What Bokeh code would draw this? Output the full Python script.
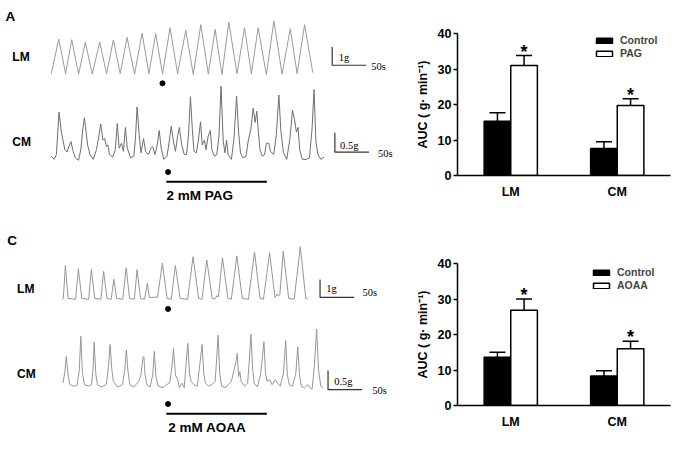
from bokeh.plotting import figure
from bokeh.models import Range1d, FactorRange, ColumnDataSource, Label, Whisker, TeeHead
from bokeh.transform import dodge
from bokeh.layouts import row, column
from bokeh.embed import file_html
from bokeh.resources import INLINE
from bokeh.core.properties import value

SANS = "Liberation Sans"
SERIF = "Liberation Serif"

# ---------------- Data: traces (time in s, tension in g) ----------------
# Panel A (PAG experiment)
lm_a_t = [0, 11, 21, 30, 40, 50, 60, 71, 81, 91, 101, 111, 122, 133, 143, 153, 163, 174, 185, 197,
          208, 219, 230, 240, 250, 260, 272, 283, 293, 303, 315, 326, 338, 350, 360, 371, 383]
lm_a_g = [0.0, 1.89, 0.0, 1.86, -0.03, 1.72, -0.03, 1.72, 0.0, 1.84, 0.0, 1.98, -0.03, 2.21, 0.0, 2.19,
          -0.03, 2.51, 0.0, 2.37, -0.05, 2.68, -0.03, 2.42, -0.05, 2.81, 0.0, 2.51, 0.0, 2.51, -0.05,
          2.89, -0.03, 2.46, 0.0, 2.68, 0.05]

cm_a_t = [0, 4.3, 7.6, 11.4, 14.8, 17.1, 20, 23.3, 25.7, 29,
          31.4, 35.2, 40, 43.3, 46.2, 48.6, 51, 53.3, 56.7, 61.4,
          66.2, 69.5, 72.4, 75.7, 78.1, 81, 82.9, 85.2, 90, 93.8,
          96.7, 99.5, 102.9, 105.7, 108.6, 111.4, 116.2, 121, 123.3, 125.7,
          128.6, 131.4, 135.2, 138.1, 142.4, 145.7, 148.6, 151.9, 155.2, 158.1,
          161, 164.8, 169.5, 173.3, 175.7, 179, 181.9, 185.2, 187.6, 191,
          194.8, 198.1, 201, 203.8, 206.7, 209, 212.4, 215.2, 218.6, 221,
          224.3, 226.7, 229.5, 232.9, 235.2, 239, 242.4, 245.7, 248.6, 251.9,
          254.3, 256.7, 259, 263.8, 267.6, 271.4, 274.3, 277.1, 280.5, 285.2,
          288.6, 292.4, 295.7, 298.6, 301, 303.3, 305.7, 309, 312.4, 315.2,
          318.6, 321, 325.7, 329.5, 333.3, 336.2, 340, 344.8, 349.5, 353.3,
          356.2, 359, 361.4, 363.8, 367.6, 373.3, 378.1, 381.9, 384.8, 387.6,
          390.5, 394.8, 399.5]
cm_a_g = [0.08, 0, 0.125, 1.225, 0.71, 0.5, 0.25, 0.19, 0.33, 0.46,
          0.25, 0.04, -0.025, 0.25, 0.79, 1.08, 0.71, 0.375, 0.125, 0,
          0.25, 0.58, 0.92, 0.5, 0.54, 0.33, 0.375, 0.125, 0.06, 0.25,
          0.93, 0.29, 0.42, 0.21, 0.83, 0.29, 0.04, 0.08, 0.54, 1.36,
          0.67, 0.17, 0.54, 0.21, 0.125, 0.29, 0.33, 0.125, 0.375, 0.75,
          0.29, 0, 0.08, 0.54, 0.86, 0.46, 0.21, 0.625, 0.83, 0.375,
          0.125, 0.125, 0.625, 1.625, 0.75, 0.21, 0.17, 0.46, 0.975, 0.375,
          0.5, 0.25, 0.58, 0.75, 0.25, 0.08, 0.125, 0.625, 1.9, 0.46,
          0.17, 0.5, 0.125, 0, 0.54, 1.64, 0.71, 0.17, 0.04, 0.08,
          0.5, 0.79, 1.33, 0.96, 1.25, 0.71, 0.25, 0.08, 0.125, 0.42,
          0.42, 0.21, 0.125, 0.625, 1.67, 0.75, 0.17, 0, 0.54, 1.275,
          1.04, 0.71, 0.83, 0.25, 0, 0, 0.04, 0.79, 1.81, 0.46,
          0.125, 0, 0.06]

# Panel C (AOAA experiment)
lm_c_t = [0, 2, 5, 9, 20, 24, 29, 39, 43, 48, 57, 61, 66, 72, 76, 80, 89, 94, 99, 106, 110, 115,
          121, 125, 128, 140, 147, 154, 160, 166, 173, 184, 192, 200, 205, 212, 220, 224, 227, 229,
          235, 243, 248, 256, 264, 273, 282, 290, 295, 304, 312, 315, 317, 319, 324, 332, 340, 349,
          357, 360]
lm_c_g = [0, 0.05, 1.89, 0.05, 0, 1.71, 0.05, 0, 1.66, 0.05, 0, 1.57, 0.05, 0, 1.12, 0.05, 0, 1.77,
          0.05, 0, 1.66, 0.05, 0, 0.9, 0.1, 0.12, 2.02, 0.05, 0, 1.89, 0.05, 0, 2.38, 0.05, 0, 2.2,
          0.05, 0.03, 0.2, 0.12, 2.32, 0.05, 0, 2.43, 0.05, 0, 2.65, 0.05, 0, 2.61, 0.1, 0.3, 0.18,
          0.25, 2.69, 0.05, 0, 2.94, 0.05, 0.02]

cm_c_t = [1.4, 4.3, 6.2, 9, 11.4, 17.1, 21.9, 25.2, 27.6, 30,
          32.9, 38.6, 43.3, 45.7, 47.1, 49.5, 51.9, 57.6, 64.8, 68.1,
          70.5, 72.9, 75.2, 81.4, 88.6, 91.9, 94.3, 96.7, 99.5, 105.2,
          112.4, 115.7, 118.6, 120, 121.4, 124.3, 129, 132.9, 135.2, 137.6,
          141, 148.1, 152.9, 157.6, 161, 163.3, 166.2, 169.5, 171.9, 175.7,
          179, 181.4, 184.3, 186.7, 189, 193.3, 198.1, 201.4, 205.2, 207.6,
          210, 214.8, 219.5, 224.3, 226.7, 228.6, 231, 233.8, 238.6, 243.3,
          248.1, 251.9, 254.3, 256.7, 258.6, 260.5, 262.4, 267.1, 271.9, 274.3,
          276.7, 279, 281.4, 286.2, 291, 295.7, 298.1, 300.5, 304.3, 307.6,
          312.4, 315.7, 319.5, 324.3, 327.6, 330, 332.9, 337.6, 342.4, 345.2,
          348.1, 350.5, 355.2, 360, 362.4, 366.2, 369.5, 372.9, 375.7, 379,
          382.4]
cm_c_g = [0.08, 0.375, 0.77, 0.29, 0.04, 0, 0.02, 0.375, 1.29, 0.33,
          0.04, 0, 0.04, 0.5, 1.14, 0.33, 0.04, -0.02, 0.04, 0.5,
          1.08, 0.46, 0.125, -0.02, 0.04, 0.42, 0.94, 0.375, 0.04, -0.02,
          0.125, 0.29, 0.75, 0.77, 0.33, 0.04, -0.02, 0.29, 0.9, 0.25,
          0, -0.04, 0.04, 0.08, 0.5, 0.98, 0.29, 0.17, -0.04, 0.08,
          -0.04, 0.5, 1.11, 0.33, 0.125, 0.04, 0, 0.5, 1.08, 0.33,
          0.08, 0, 0.04, 0.125, 0.75, 1.32, 0.33, 0, -0.04, 0.04,
          0.125, 0.42, 0.58, 0.85, 0.25, 0.375, 0.125, 0, 0.08, 0.67,
          1.35, 0.5, 0.08, -0.02, 0.33, 1.15, 0.33, 0.125, 0.17, 0.04,
          0.17, 0.08, 0, 0.33, 1.18, 0.29, 0.04, 0, 0.33, 1.02,
          0.25, 0, -0.04, 0.04, -0.02, -0.08, 0.5, 1.48, 0.42, 0,
          -0.04]

# ---------------- Data: bar charts (AUC, g·min-1) ----------------
groups = ["LM", "CM"]
pag_control = [15.3, 7.6]
pag_control_sem = [2.4, 1.9]
pag_treated = [31.0, 19.7]
pag_treated_sem = [2.8, 1.9]
aoaa_control = [13.6, 8.3]
aoaa_control_sem = [1.4, 1.5]
aoaa_treated = [26.8, 16.0]
aoaa_treated_sem = [3.2, 2.1]
significance = ["*", "*"]


def trace_fig(w, h, xr, yr_lm, yr_cm):
    p = figure(width=w, height=h, x_range=Range1d(*xr), y_range=Range1d(*yr_lm),
               output_backend="svg", toolbar_location=None, min_border=0,
               x_axis_location=None, y_axis_location=None, outline_line_color=None)
    p.extra_y_ranges = {"cm": Range1d(*yr_cm)}
    p.grid.visible = False
    return p


def lbl(p, x, y, text, font=SANS, size="12px", style="bold", rng="default", align="left"):
    p.add_layout(Label(x=x, y=y, text=text, text_font=font, text_font_size=size,
                       text_font_style=style, text_baseline="middle", text_align=align,
                       y_range_name=rng, text_color="black"))


def scale_bar(p, t0, g0, dg, rng, gtxt, gx, gy, sx, sy):
    p.line([t0, t0, t0 + 50], [g0 + dg, g0, g0], line_color="#333333", line_width=1.2,
           y_range_name=rng)
    lbl(p, gx, gy, gtxt, font=SERIF, size="10.5px", style="normal", rng=rng)
    lbl(p, sx, sy, "50s", font=SERIF, size="10.5px", style="normal", rng=rng)


# ---------------- Panel A ----------------
pA = trace_fig(400, 207, (-74.3, 511.4), (-7.32, 4.0), (-1.25, 4.125))
pA.line(lm_a_t, lm_a_g, line_color="#9a9a9a", line_width=1, line_join="round")
pA.line(cm_a_t, cm_a_g, line_color="#6e6e6e", line_width=1, y_range_name="cm")
lbl(pA, -67, 3.1, "A", size="13.5px")
lbl(pA, -57, 0.9, "LM")
lbl(pA, -57, 0.44, "CM", rng="cm")
scale_bar(pA, 411.4, 0.46, 1.0, "default", "1g", 421, 0.89, 468.6, 0.37)
scale_bar(pA, 415.3, 0.19, 0.5, "cm", "0.5g", 422.9, 0.35, 478.6, 0.16)
pA.scatter([162.9], [-0.53], size=5, color="black")
pA.scatter([171.0], [-0.33], size=5, color="black", y_range_name="cm")
pA.line([168.6, 315.7], [-0.58, -0.58], line_color="black", line_width=2, y_range_name="cm")
lbl(pA, 168.6, -0.94, "2 mM PAG", size="13.5px", rng="cm")

# ---------------- Panel C ----------------
pC = trace_fig(400, 228, (-90.0, 495.7), (-7.62, 5.135), (-1.275, 4.625))
pC.line(lm_c_t, lm_c_g, line_color="#969696", line_width=1, line_join="round")
pC.line(cm_c_t, cm_c_g, line_color="#969696", line_width=1, y_range_name="cm")
lbl(pC, -80, 3.3, "C", size="13.5px")
lbl(pC, -65.7, 0.6, "LM")
lbl(pC, -65.7, 0.31, "CM", rng="cm")
scale_bar(pC, 377.9, 0.11, 1.0, "default", "1g", 387, 0.6, 440, 0.38)
scale_bar(pC, 389.6, -0.09, 0.5, "cm", "0.5g", 398.6, 0.125, 454.3, -0.1)
pC.scatter([155.3], [-0.54], size=5, color="black")
pC.scatter([155.3], [-0.46], size=5, color="black", y_range_name="cm")
pC.line([152.9, 300.0], [-0.71, -0.71], line_color="black", line_width=2, y_range_name="cm")
lbl(pC, 155.7, -1.075, "2 mM AOAA", size="13.5px", rng="cm")


# ---------------- Bar panels ----------------
def bar_fig(w, h, borders, ctrl, ctrl_sem, trt, trt_sem, trt_name, letter, letter_xy, legend_xy):
    src = ColumnDataSource(dict(
        group=groups, ctrl=ctrl, ctrl_hi=[v + s for v, s in zip(ctrl, ctrl_sem)],
        trt=trt, trt_hi=[v + s for v, s in zip(trt, trt_sem)], sig=significance))
    left, right, top, bottom = borders
    p = figure(width=w, height=h, x_range=FactorRange(*groups), y_range=Range1d(0, 40),
               output_backend="svg", toolbar_location=None,
               min_border_left=left, min_border_right=right,
               min_border_top=top, min_border_bottom=bottom, outline_line_color=None)
    p.grid.visible = False
    xc = dodge("group", -0.125, range=p.x_range)
    xt = dodge("group", 0.125, range=p.x_range)
    p.add_layout(Whisker(base=xc, upper="ctrl_hi", lower="ctrl", source=src, line_width=1.5,
                         line_color="black", upper_head=TeeHead(size=16, line_width=1.5),
                         lower_head=None))
    p.add_layout(Whisker(base=xt, upper="trt_hi", lower="trt", source=src, line_width=1.5,
                         line_color="black", upper_head=TeeHead(size=16, line_width=1.5),
                         lower_head=None))
    p.vbar(x=xc, top="ctrl", width=0.25, source=src, fill_color="black", line_color="black",
           line_width=1.5, legend_label="Control")
    p.vbar(x=xt, top="trt", width=0.25, source=src, fill_color="white", line_color="black",
           line_width=1.5, legend_label=trt_name)
    p.text(x=xt, y="trt_hi", text="sig", source=src, text_font=value(SANS),
           text_font_style="bold", text_font_size=value("18px"), text_align="center",
           text_baseline="alphabetic", y_offset=-4, text_color="black")

    p.yaxis.ticker = [0, 10, 20, 30, 40]
    for ax in (p.xaxis[0], p.yaxis[0]):
        ax.axis_line_width = 1.5
        ax.axis_line_color = "black"
        ax.major_tick_line_width = 1.5
        ax.major_tick_line_color = "black"
        ax.minor_tick_line_color = None
        ax.major_label_text_font = SANS
        ax.major_label_text_font_style = "bold"
        ax.major_label_text_color = "black"
        ax.major_label_text_font_size = "12.5px"
    p.yaxis.major_tick_out = 4
    p.yaxis.major_tick_in = 0
    p.yaxis.major_label_standoff = 2
    p.yaxis.axis_label = "AUC ( g\u00b7 min\u207b\u00b9)"
    p.yaxis.axis_label_text_font = SANS
    p.yaxis.axis_label_text_font_style = "bold"
    p.yaxis.axis_label_text_font_size = "12.5px"
    p.yaxis.axis_label_standoff = 5
    p.yaxis.axis_label_text_color = "black"
    p.xaxis.major_tick_out = 0
    p.xaxis.major_tick_in = 0
    p.xaxis.major_label_standoff = 9

    lg = p.legend[0]
    lg.location = legend_xy
    lg.border_line_color = None
    lg.background_fill_alpha = 0
    lg.glyph_width = 20
    lg.glyph_height = 7
    lg.label_text_font = SANS
    lg.label_text_font_style = "bold"
    lg.label_text_font_size = "10.5px"
    lg.label_height = 10
    lg.label_standoff = 6
    lg.padding = 0
    lg.spacing = 1
    lg.margin = 0

    p.add_layout(Label(x=letter_xy[0], y=letter_xy[1], x_units="screen", y_units="screen",
                       text=letter, text_font=SANS, text_font_style="bold",
                       text_font_size="13.5px", text_baseline="middle", text_color="black"))
    return p


pB = bar_fig(280, 207, (57, 4, 33, 32), pag_control, pag_control_sem, pag_treated,
             pag_treated_sem, "PAG", "B", (-44, 166), (137, 116))
pD = bar_fig(280, 228, (50, 10, 56, 30), aoaa_control, aoaa_control_sem, aoaa_treated,
             aoaa_treated_sem, "AOAA", "D", (-46, 167), (134, 114))

layout = row(column(pA, pC), column(pB, pD))
open("out.html", "w").write(file_html(layout, INLINE))
